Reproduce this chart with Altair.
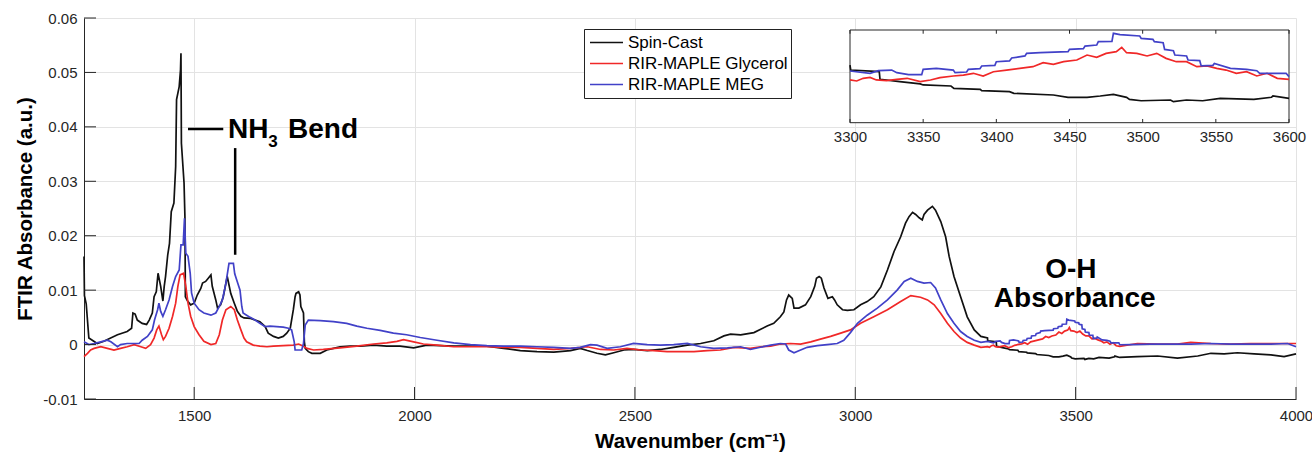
import altair as alt
import pandas as pd

# ---------------- data ----------------
series_names = ["Spin-Cast", "RIR-MAPLE Glycerol", "RIR-MAPLE MEG"]
series_colors = ["#111111", "#f02828", "#4141c8"]

spin_cast = [
    (1250, 0.0162), (1251, 0.0090), (1255, 0.0075), (1261, 0.0012), (1280, 0.0002), (1295, 0.0006),
    (1326, 0.0018), (1348, 0.0024), (1358, 0.0030), (1361, 0.0058), (1366, 0.0056), (1371, 0.0045),
    (1382, 0.0039), (1392, 0.0037), (1398, 0.0045), (1405, 0.0058), (1409, 0.0088), (1414, 0.0097),
    (1418, 0.0131), (1424, 0.0107), (1429, 0.0080), (1432, 0.0107), (1435, 0.0125), (1440, 0.0165),
    (1444, 0.0186), (1448, 0.0244), (1454, 0.0260), (1458, 0.0327), (1460, 0.0450), (1466, 0.0474),
    (1469, 0.0505), (1470, 0.0535), (1471, 0.0370), (1477, 0.0297), (1479, 0.0235), (1480, 0.0088),
    (1485, 0.0080), (1492, 0.0073), (1500, 0.0076), (1507, 0.0091), (1515, 0.0103), (1519, 0.0113),
    (1526, 0.0116), (1532, 0.0122), (1538, 0.0128), (1541, 0.0107), (1549, 0.0082), (1553, 0.0067),
    (1560, 0.0073), (1566, 0.0088), (1572, 0.0113), (1575, 0.0125), (1583, 0.0094), (1591, 0.0076),
    (1598, 0.0061), (1606, 0.0052), (1613, 0.0049), (1628, 0.0048), (1649, 0.0042), (1661, 0.0033),
    (1668, 0.0021), (1680, 0.0015), (1691, 0.0012), (1702, 0.0015), (1710, 0.0021), (1718, 0.0030),
    (1725, 0.0064), (1729, 0.0088), (1731, 0.0094), (1737, 0.0097), (1740, 0.0091), (1742, 0.0070),
    (1748, 0.0058), (1750, 0.0005), (1752, -0.0007), (1759, -0.0013), (1767, -0.0016), (1786, -0.0016),
    (1801, -0.0010), (1816, -0.0007), (1831, -0.0004), (1854, -0.0003), (1877, -0.0003), (1907, -0.0001),
    (1937, -0.0003), (1967, -0.0003), (1998, -0.0006), (2028, -0.0001), (2089, -0.0003), (2164, -0.0003),
    (2202, -0.0007), (2240, -0.0011), (2278, -0.0013), (2316, -0.0014), (2354, -0.0011), (2376, -0.0007),
    (2392, -0.0011), (2414, -0.0016), (2433, -0.0019), (2452, -0.0015), (2475, -0.0010), (2497, -0.0009),
    (2528, -0.0011), (2558, -0.0009), (2588, -0.0005), (2619, -0.0001), (2649, 0.0002), (2679, 0.0007),
    (2702, 0.0016), (2717, 0.0019), (2740, 0.0018), (2770, 0.0022), (2800, 0.0034), (2815, 0.0039),
    (2830, 0.0051), (2838, 0.0060), (2844, 0.0082), (2849, 0.0091), (2857, 0.0085), (2861, 0.0067),
    (2872, 0.0067), (2887, 0.0073), (2899, 0.0088), (2908, 0.0107), (2912, 0.0122), (2918, 0.0125),
    (2923, 0.0122), (2929, 0.0104), (2938, 0.0085), (2948, 0.0088), (2953, 0.0082), (2959, 0.0073),
    (2971, 0.0064), (2982, 0.0063), (2997, 0.0064), (3012, 0.0073), (3027, 0.0079), (3042, 0.0088),
    (3058, 0.0106), (3073, 0.0137), (3088, 0.0171), (3103, 0.0198), (3114, 0.0223), (3122, 0.0235),
    (3130, 0.0243), (3137, 0.0239), (3145, 0.0233), (3152, 0.0229), (3156, 0.0239), (3164, 0.0247),
    (3175, 0.0254), (3182, 0.0247), (3194, 0.0226), (3205, 0.0198), (3213, 0.0162), (3224, 0.0125),
    (3239, 0.0088), (3254, 0.0051), (3270, 0.0027), (3285, 0.0015),
    (3300, 0.00122), (3300.5, 0.00068), (3320, 0.00051), (3320.5, -0.00032), (3334, -0.00057),
    (3348, -0.00082), (3350, -0.00093), (3369, -0.00104), (3371, -0.00129), (3389, -0.00140),
    (3390, -0.00154), (3409, -0.00165), (3412, -0.00183), (3439, -0.00201), (3449, -0.00226),
    (3462, -0.00226), (3471, -0.00212), (3480, -0.00194), (3489, -0.00226), (3491, -0.00248),
    (3499, -0.00263), (3519, -0.00255), (3521, -0.00273), (3530, -0.00255), (3541, -0.00263),
    (3553, -0.00237), (3576, -0.00248), (3588, -0.00226), (3589, -0.00212), (3600, -0.00237),
    (3640, -0.0022), (3686, -0.0021), (3731, -0.0025), (3777, -0.0021), (3807, -0.0016), (3837, -0.0017),
    (3867, -0.0015), (3905, -0.0017), (3943, -0.0019), (3973, -0.0022), (4000, -0.0017),
]

rir_glycerol = [
    (1250, -0.0022), (1258, -0.0016), (1265, -0.0010), (1273, -0.0007), (1288, -0.0004), (1303, -0.0007),
    (1318, -0.0010), (1333, -0.0007), (1348, -0.0004), (1364, 0.0000), (1379, -0.0004), (1390, -0.0007),
    (1401, 0.0000), (1409, 0.0012), (1415, 0.0027), (1420, 0.0034), (1426, 0.0018), (1430, 0.0009),
    (1435, 0.0015), (1443, 0.0030), (1451, 0.0052), (1458, 0.0076), (1463, 0.0107), (1468, 0.0128),
    (1476, 0.0131), (1481, 0.0107), (1486, 0.0076), (1492, 0.0052), (1500, 0.0033), (1511, 0.0018),
    (1522, 0.0006), (1538, 0.0000), (1549, 0.0002), (1557, 0.0018), (1564, 0.0045), (1572, 0.0064),
    (1583, 0.0070), (1591, 0.0064), (1598, 0.0045), (1606, 0.0027), (1613, 0.0012), (1619, 0.0005),
    (1634, -0.0001), (1649, -0.0003), (1665, -0.0004), (1680, -0.0003), (1702, -0.0002), (1725, -0.0001),
    (1737, 0.0001), (1748, -0.0003), (1756, -0.0007), (1771, -0.0010), (1793, -0.0009), (1831, -0.0006),
    (1869, -0.0003), (1907, 0.0001), (1937, 0.0003), (1960, 0.0006), (1975, 0.0009), (1998, 0.0005),
    (2020, 0.0001), (2051, -0.0001), (2089, -0.0004), (2127, -0.0004), (2164, -0.0004), (2202, -0.0005),
    (2240, -0.0005), (2278, -0.0007), (2316, -0.0009), (2354, -0.0007), (2392, -0.0004), (2422, -0.0009),
    (2452, -0.0010), (2482, -0.0007), (2513, -0.0010), (2543, -0.0011), (2573, -0.0013), (2603, -0.0013),
    (2634, -0.0013), (2664, -0.0011), (2694, -0.0010), (2725, -0.0005), (2762, -0.0007), (2785, -0.0004),
    (2808, -0.0003), (2830, 0.0001), (2853, 0.0002), (2876, 0.0001), (2899, 0.0005), (2921, 0.0010),
    (2944, 0.0015), (2967, 0.0021), (2989, 0.0027), (3012, 0.0039), (3042, 0.0051), (3073, 0.0064),
    (3103, 0.0079), (3126, 0.0090), (3148, 0.0087), (3164, 0.0082), (3179, 0.0073), (3194, 0.0057),
    (3209, 0.0039), (3224, 0.0024), (3239, 0.0012), (3254, 0.0004), (3270, -0.0001), (3285, -0.0005),
    (3300, -0.00039), (3304.6, -0.0005), (3309, -0.00021), (3313.7, -0.00011), (3318, -0.00039),
    (3325, -0.00047), (3332, -0.00032), (3339, -0.00021), (3348, -0.00057), (3355, -0.00039),
    (3361.5, -0.00014), (3370.6, 0.00004), (3377.5, 0.00014), (3384.3, 0.00033), (3391, 0.00004),
    (3398, 0.0005), (3407, 0.00068), (3416, 0.00086), (3425, 0.00104), (3432, 0.00148), (3439, 0.0013),
    (3446, 0.00158), (3455, 0.00176), (3462, 0.0023), (3468.6, 0.00205), (3475, 0.00248), (3482, 0.00266),
    (3485.7, 0.00313), (3489, 0.00255), (3496, 0.00248), (3503, 0.0022), (3509.6, 0.00248), (3516, 0.00194),
    (3523, 0.00158), (3530, 0.00158), (3537, 0.00104), (3544, 0.00112), (3550.6, 0.00086), (3557, 0.00068),
    (3564, 0.00033), (3571, 0.0005), (3578, 0.00004), (3585, 0.00033), (3592, -0.00021), (3600, -0.00032),
    (3640, 0.0002), (3686, 0.0001), (3731, 0.0001), (3761, 0.0004), (3807, 0.0002), (3852, 0.0001),
    (3897, 0.0002), (3943, 0.0002), (3988, 0.0002), (4000, 0.0002),
]

rir_meg = [
    (1250, 0.0005), (1261, 0.0000), (1273, 0.0002), (1288, 0.0005), (1303, 0.0008), (1311, 0.0005),
    (1326, -0.0004), (1333, 0.0000), (1348, 0.0002), (1364, 0.0002), (1375, 0.0002), (1382, 0.0008),
    (1394, 0.0015), (1405, 0.0027), (1410, 0.0045), (1417, 0.0064), (1420, 0.0076), (1424, 0.0061),
    (1429, 0.0052), (1435, 0.0064), (1443, 0.0082), (1451, 0.0107), (1458, 0.0125), (1466, 0.0137),
    (1470, 0.0183), (1475, 0.0183), (1478, 0.0232), (1481, 0.0168), (1486, 0.0162), (1491, 0.0131),
    (1494, 0.0095), (1500, 0.0076), (1511, 0.0064), (1522, 0.0058), (1538, 0.0054), (1549, 0.0058),
    (1557, 0.0070), (1564, 0.0082), (1572, 0.0113), (1579, 0.0149), (1589, 0.0149), (1592, 0.0130),
    (1598, 0.0115), (1604, 0.0100), (1608, 0.0070), (1611, 0.0058), (1619, 0.0054), (1627, 0.0050),
    (1638, 0.0045), (1649, 0.0039), (1661, 0.0033), (1672, 0.0034), (1687, 0.0033), (1702, 0.0032),
    (1714, 0.0030), (1721, 0.0027), (1727, 0.0005), (1729, -0.0010), (1744, -0.0010), (1748, 0.0002),
    (1752, 0.0036), (1759, 0.0045), (1786, 0.0044), (1816, 0.0042), (1846, 0.0039), (1869, 0.0034),
    (1892, 0.0030), (1922, 0.0026), (1952, 0.0021), (1982, 0.0018), (2013, 0.0013), (2051, 0.0008),
    (2089, 0.0003), (2127, 0.0000), (2164, -0.0002), (2202, -0.0003), (2240, -0.0003), (2278, -0.0004),
    (2316, -0.0005), (2354, -0.0007), (2376, -0.0005), (2399, 0.0000), (2414, -0.0001), (2437, -0.0007),
    (2467, -0.0004), (2497, 0.0002), (2528, 0.0000), (2558, -0.0001), (2588, 0.0000), (2619, 0.0002),
    (2649, -0.0004), (2679, -0.0007), (2710, -0.0006), (2740, -0.0004), (2762, -0.0009), (2785, -0.0005),
    (2808, -0.0001), (2830, 0.0002), (2842, 0.0001), (2849, -0.0010), (2861, -0.0015), (2876, -0.0010),
    (2891, -0.0005), (2914, -0.0002), (2936, 0.0000), (2959, 0.0002), (2974, 0.0008), (2989, 0.0022),
    (3005, 0.0039), (3027, 0.0054), (3050, 0.0067), (3073, 0.0082), (3095, 0.0100), (3111, 0.0116),
    (3126, 0.0122), (3141, 0.0116), (3156, 0.0113), (3171, 0.0114), (3182, 0.0104), (3194, 0.0082),
    (3209, 0.0057), (3224, 0.0039), (3239, 0.0024), (3254, 0.0015), (3270, 0.0008), (3285, 0.0004),
    (3300, 0.00058), (3313.7, 0.00033), (3319.4, 0.00061), (3328.5, 0.00068), (3332, 0.0004),
    (3340, 0.00018), (3349, 0.00018), (3350, 0.00076), (3359, 0.00086), (3370.6, 0.00068),
    (3371.8, 0.0004), (3379.7, 0.00047), (3380.9, 0.00076), (3388.8, 0.00083), (3390, 0.00112),
    (3399, 0.00119), (3400, 0.00158), (3409, 0.00166), (3410.5, 0.00198), (3419.6, 0.0022),
    (3420.7, 0.00248), (3430, 0.00255), (3449, 0.00266), (3450, 0.00291), (3459.5, 0.00299),
    (3460.6, 0.00327), (3468.6, 0.00338), (3469.7, 0.00374), (3479, 0.00378), (3480, 0.00464),
    (3484.5, 0.0045), (3498, 0.00435), (3499, 0.0041), (3507, 0.00399), (3508, 0.00374), (3514, 0.00363),
    (3515, 0.00291), (3521, 0.00277), (3522, 0.0023), (3530, 0.0022), (3531, 0.00176), (3539, 0.00169),
    (3540, 0.00112), (3548, 0.00119), (3549, 0.0014), (3560, 0.00086), (3571, 0.00076), (3578, 0.00061),
    (3580, 0.00033), (3598, 0.00033), (3600, -0.00003),
    (3625, 0.0000), (3670, 0.0001), (3716, 0.0001), (3761, 0.0001), (3807, 0.0002), (3852, 0.0001),
    (3897, 0.0001), (3943, 0.0001), (3981, 0.0002), (4000, -0.0004),
]

x_ticks = [1500, 2000, 2500, 3000, 3500, 4000]
y_ticks = [-0.01, 0.0, 0.01, 0.02, 0.03, 0.04, 0.05, 0.06]
x_limits = [1250, 4000]
y_limits = [-0.01, 0.06]

inset_x_ticks = [3300, 3350, 3400, 3450, 3500, 3550, 3600]
inset_x_limits = [3300, 3600]
inset_y_limits = [-0.005, 0.005]

# annotation pointer lines (data coordinates)
pointer_x1 = [1486, 1593]
pointer_x2 = [1566, 1593]
pointer_y1 = [0.0396, 0.0361]
pointer_y2 = [0.0396, 0.0165]

nh3_parts = ["NH", "3", "Bend"]
nh3_x = [1577, 1668, 1713]
nh3_y = [0.0380, 0.0363, 0.0380]
nh3_size = [28, 17, 28]

oh_parts = ["O-H", "Absorbance"]
oh_x = [3489, 3498]
oh_y = [0.0122, 0.00686]
oh_size = [28, 28]

# ---------------- build tables ----------------
rows = []
for name, pts in zip(series_names, [spin_cast, rir_glycerol, rir_meg]):
    for i, (w, a) in enumerate(pts):
        rows.append({"series": name, "wn": w, "a": a, "idx": i})
df = pd.DataFrame(rows)

W, H = 1212, 381
FONT = "Liberation Sans"
AXC = "#262626"
LW = 1.7

# inset placement inside the plot area (pixels)
INSET_LEFT, INSET_RIGHT, INSET_TOP, INSET_BOTTOM = 766, 1205, 12, 104.7

x_main = alt.Scale(domain=x_limits, nice=False, zero=False)
y_main = alt.Scale(domain=y_limits, nice=False, zero=False)

x_axis = alt.Axis(
    values=x_ticks, format="d", title="Wavenumber (cm⁻¹)", grid=True, ticks=False,
    labelPadding=9, labelFlush=False, titleX=606, titleY=48, titleAlign="center",
    titleBaseline="alphabetic",
)
y_axis = alt.Axis(
    values=y_ticks, title="FTIR Absorbance (a.u.)", grid=True, ticks=False, labelPadding=7,
    labelExpr="datum.value == 0 ? '0' : replace(format(datum.value, '.2f'), '\u2212', '-')",
    titleX=-53, titleY=H / 2, titleAngle=270, titleAlign="center", titleBaseline="alphabetic",
)

color_enc = alt.Color(
    "series:N",
    scale=alt.Scale(domain=series_names, range=series_colors),
    sort=series_names,
    legend=alt.Legend(
        title=None, orient="none", legendX=500, legendY=11, direction="vertical",
        strokeColor="#222222", fillColor="white", padding=3, symbolType="stroke",
        symbolSize=1089, symbolStrokeWidth=1.6, symbolOffset=2, clipHeight=21,
        labelFont=FONT, labelFontSize=17, labelColor="black", rowPadding=0,
        labelOffset=4, labelLimit=0, symbolOpacity=1,
    ),
)

lines = alt.Chart(df).mark_line(strokeWidth=LW).encode(
    x=alt.X("wn:Q", scale=x_main, axis=x_axis),
    y=alt.Y("a:Q", scale=y_main, axis=y_axis),
    color=color_enc,
    order=alt.Order("idx:Q"),
)

xt = alt.Chart(pd.DataFrame({"t": x_ticks})).mark_rule(color=AXC, strokeWidth=1).encode(
    x=alt.X("t:Q", scale=x_main, axis=x_axis), y=alt.value(H), y2=alt.value(H - 12)
)
yt = alt.Chart(pd.DataFrame({"t": y_ticks})).mark_rule(color=AXC, strokeWidth=1).encode(
    y=alt.Y("t:Q", scale=y_main, axis=y_axis), x=alt.value(0), x2=alt.value(12)
)

ptr = alt.Chart(pd.DataFrame({"x1": pointer_x1, "x2": pointer_x2, "y1": pointer_y1, "y2": pointer_y2})).mark_rule(
    color="black", strokeWidth=2.5
).encode(
    x=alt.X("x1:Q", scale=x_main, axis=x_axis), x2="x2:Q",
    y=alt.Y("y1:Q", scale=y_main, axis=y_axis), y2="y2:Q",
)

txt_nh3 = alt.Chart(pd.DataFrame({"x": nh3_x, "y": nh3_y, "label": nh3_parts, "fs": nh3_size})).mark_text(
    font=FONT, fontWeight="bold", align="left", baseline="alphabetic", color="black"
).encode(
    x=alt.X("x:Q", scale=x_main, axis=x_axis), y=alt.Y("y:Q", scale=y_main, axis=y_axis),
    text="label:N", size=alt.Size("fs:Q", scale=None),
)
txt_oh = alt.Chart(pd.DataFrame({"x": oh_x, "y": oh_y, "label": oh_parts, "fs": oh_size})).mark_text(
    font=FONT, fontWeight="bold", align="center", baseline="alphabetic", color="black"
).encode(
    x=alt.X("x:Q", scale=x_main, axis=x_axis), y=alt.Y("y:Q", scale=y_main, axis=y_axis),
    text="label:N", size=alt.Size("fs:Q", scale=None),
)

main = alt.layer(lines, xt, yt, ptr, txt_nh3, txt_oh)

# ---------------- inset ----------------
x_in = alt.Scale(domain=inset_x_limits, range=[INSET_LEFT, INSET_RIGHT], nice=False, zero=False)
y_in = alt.Scale(domain=inset_y_limits, range=[INSET_BOTTOM, INSET_TOP], nice=False, zero=False)
in_axis = alt.Axis(
    values=inset_x_ticks, format="d", orient="bottom", offset=-(H - INSET_BOTTOM), title=None,
    grid=False, ticks=False, domain=False, labelPadding=7, labelFlush=False,
)

box = alt.Chart(pd.DataFrame({
    "x0": [inset_x_limits[0]], "x1": [inset_x_limits[1]],
    "y0": [inset_y_limits[0]], "y1": [inset_y_limits[1]],
})).mark_rect(fill="white", stroke=AXC, strokeWidth=1).encode(
    x=alt.X("x0:Q", scale=x_in, axis=in_axis), x2="x1:Q",
    y=alt.Y("y0:Q", scale=y_in, axis=None), y2="y1:Q",
)

inset_lines = alt.Chart(df).transform_filter(
    (alt.datum.wn >= inset_x_limits[0]) & (alt.datum.wn <= inset_x_limits[1])
).mark_line(strokeWidth=LW).encode(
    x=alt.X("wn:Q", scale=x_in, axis=in_axis),
    y=alt.Y("a:Q", scale=y_in, axis=None),
    color=alt.Color("series:N", scale=alt.Scale(domain=series_names, range=series_colors), legend=None),
    order=alt.Order("idx:Q"),
)

tick_rows = []
for t in inset_x_ticks:
    tick_rows.append({"t": t, "ya": inset_y_limits[0], "yb": inset_y_limits[0] + 0.0004})
    tick_rows.append({"t": t, "ya": inset_y_limits[1], "yb": inset_y_limits[1] - 0.0004})
inset_ticks = alt.Chart(pd.DataFrame(tick_rows)).mark_rule(color=AXC, strokeWidth=1).encode(
    x=alt.X("t:Q", scale=x_in, axis=in_axis),
    y=alt.Y("ya:Q", scale=y_in, axis=None), y2="yb:Q",
)

inset = alt.layer(box, inset_lines, inset_ticks)

chart = alt.layer(main, inset).resolve_scale(
    x="independent", y="independent", color="independent"
).resolve_legend(color="independent").properties(
    width=W, height=H,
    padding={"left": 84, "top": 18, "right": 16, "bottom": 53},
    autosize=alt.AutoSizeParams(type="none"),
).configure_view(stroke=None).configure_axis(
    labelFont=FONT, labelFontSize=15, labelColor=AXC,
    titleFont=FONT, titleFontSize=20.5, titleFontWeight="bold", titleColor="black",
    domainColor=AXC, domainWidth=1, gridColor="#e3e3e3", gridWidth=1, gridOpacity=1,
)

chart.save("out.html", embed_options={"renderer": "svg", "actions": False})
